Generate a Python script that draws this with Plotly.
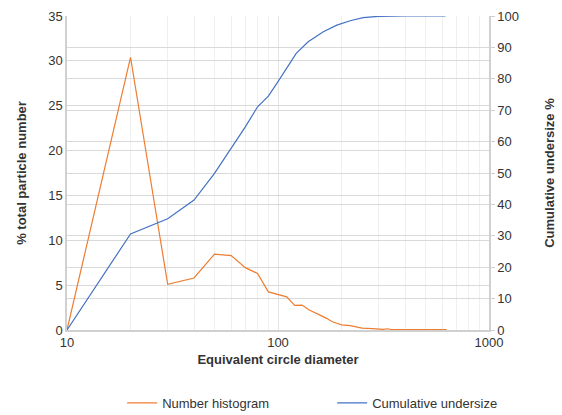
import plotly.graph_objects as go

diam_num = [10, 20, 30, 40, 50, 60, 70, 80, 90, 110, 120, 130, 140, 150, 160, 170,
            180, 190, 200, 220, 250, 280, 300, 315, 330, 345, 400, 450, 500, 550, 600, 630]
number_hist = [0, 30.4, 5.1, 5.8, 8.45, 8.3, 6.95, 6.3, 4.25, 3.7, 2.75, 2.78, 2.25, 1.95,
               1.6, 1.3, 0.95, 0.75, 0.58, 0.48, 0.22, 0.15, 0.12, 0.06, 0.14, 0.05, 0.05,
               0.05, 0.05, 0.05, 0.05, 0.05]

diam_cum = [10, 20, 30, 40, 50, 60, 70, 80, 90, 100, 110, 122, 139, 164, 190, 220, 253,
            300, 400, 500, 622]
cum_under = [0, 30.6, 35.4, 41.4, 49.9, 57.9, 64.7, 71.1, 74.5, 79.1, 83.5, 88.1, 91.8,
             95.0, 97.1, 98.5, 99.5, 99.9, 100, 100, 100]

left_ticks = [0, 5, 10, 15, 20, 25, 30, 35]
right_ticks = [0, 10, 20, 30, 40, 50, 60, 70, 80, 90, 100]

ORANGE = "#ED7D31"
BLUE = "#4472C4"
font_family = "Liberation Sans, Arial, sans-serif"

fig = go.Figure()
fig.add_trace(go.Scatter(x=diam_num, y=number_hist, mode="lines", name="Number histogram",
                         line=dict(color=ORANGE, width=1.2)))
fig.add_trace(go.Scatter(x=diam_cum, y=cum_under, mode="lines", name="Cumulative undersize",
                         line=dict(color=BLUE, width=1.2), yaxis="y2"))

fig.update_layout(
    width=562, height=415,
    margin=dict(l=67, r=73, t=16, b=85, autoexpand=False),
    paper_bgcolor="white", plot_bgcolor="white",
    font=dict(family=font_family, size=13, color="#333333"),
    showlegend=True,
    legend=dict(orientation="h", x=0.591, xanchor="center", xref="container",
                y=0.029, yanchor="middle", yref="container",
                font=dict(size=13, color="#333333"), traceorder="normal",
                entrywidth=165),
    xaxis=dict(type="log", range=[1, 3], tickvals=[10, 100, 1000],
               ticktext=["10", "100", "1000"], automargin=False,
               showline=True, linecolor="#d0d0d0", linewidth=1.5,
               showgrid=True, gridcolor="#e4e4e4", gridwidth=1,
               minor=dict(tickvals=[20, 30, 40, 50, 60, 70, 80, 90, 200, 300, 400, 500, 600, 700, 800, 900],
                          showgrid=True, gridcolor="#efefef", gridwidth=1, ticks=""),
               ticks="", zeroline=False,
               title=dict(text="<b>Equivalent circle diameter</b>", standoff=6,
                          font=dict(size=13, color="#333333")),
               tickfont=dict(size=13, color="#333333")),
    yaxis=dict(range=[0, 35], tickvals=left_ticks, showgrid=True, gridcolor="#d9d9d9",
               showline=True, linecolor="#d0d0d0", linewidth=1.5, ticks="",
               zeroline=False, automargin=False,
               title=dict(text="<b>% total particle number</b>", standoff=19,
                          font=dict(size=13, color="#333333")),
               tickfont=dict(size=13, color="#333333")),
    yaxis2=dict(range=[0, 100], tickvals=right_ticks, overlaying="y", side="right",
                showgrid=True, gridcolor="#d9d9d9", automargin=False,
                showline=True, linecolor="#d0d0d0", linewidth=1.5,
                ticks="outside", ticklen=4, tickcolor="#d0d0d0",
                zeroline=False,
                title=dict(text="<b>Cumulative undersize %</b>", standoff=27,
                           font=dict(size=13, color="#333333")),
                tickfont=dict(size=13, color="#333333")),
)

fig.write_html("out.html", config={"displayModeBar": False},
               post_script="document.body.style.margin='0';")
